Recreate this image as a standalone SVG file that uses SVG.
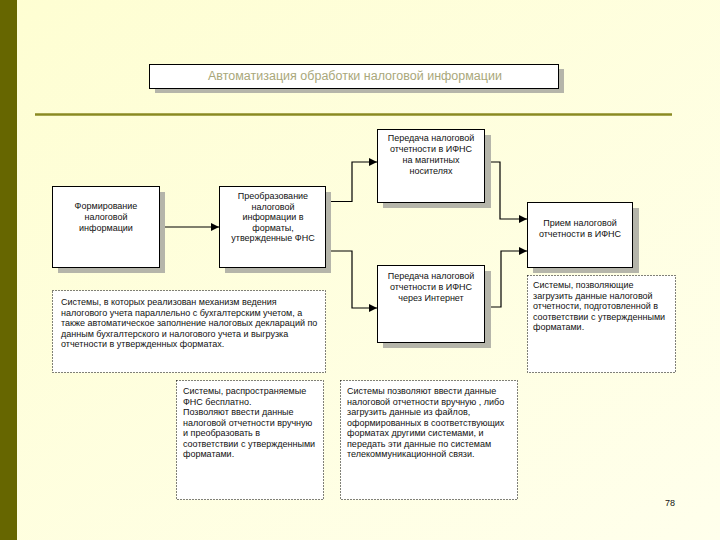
<svg xmlns="http://www.w3.org/2000/svg" width="720" height="540" viewBox="0 0 720 540">
<defs>
<linearGradient id="bg" x1="0" y1="0" x2="1" y2="1">
<stop offset="0" stop-color="#FEFED2"/>
<stop offset="1" stop-color="#FFFFEC"/>
</linearGradient>
<marker id="ah" viewBox="0 0 8 8" refX="8" refY="4" markerWidth="8" markerHeight="8" markerUnits="userSpaceOnUse" orient="auto">
<path d="M0,0 L8,4 L0,8 z" fill="#000"/>
</marker>
</defs>
<style>
.sh{fill:#B5B5AA}
.box{fill:#fff;stroke:#000;stroke-width:1}
.dot{fill:#fff;stroke:#000;stroke-width:1;stroke-dasharray:1 2}
.t{font-family:"Liberation Sans",Arial,sans-serif;font-size:9px;fill:#111;font-weight:400}
.c{text-anchor:middle}
.con{fill:none;stroke:#000;stroke-width:1.2;marker-end:url(#ah)}
</style>
<rect width="720" height="540" fill="url(#bg)"/>
<rect x="0" y="0" width="17" height="540" fill="#666600"/>
<line x1="35" y1="114.5" x2="672" y2="114.5" stroke="#8A8A22" stroke-width="2.5"/>

<g id="title">
<rect class="sh" x="155" y="69" width="409" height="24"/>
<rect class="box" x="149.5" y="64.5" width="409" height="24"/>
<text x="355" y="80" text-anchor="middle" font-family="'Liberation Sans',Arial,sans-serif" font-size="12.5" fill="#A9A77A">Автоматизация обработки налоговой информации</text>
</g>

<g id="connectors">
<path class="con" d="M159,227 H219"/>
<path class="con" d="M325,201.5 H352 V162 H377"/>
<path class="con" d="M325,251 H352 V308 H377"/>
<path class="con" d="M485,162 H500 V219 H527"/>
<path class="con" d="M485,307 H501 V251 H527"/>
</g>

<g id="form">
<rect class="sh" x="58" y="192" width="107" height="81"/>
<rect class="box" x="52.5" y="186.5" width="107" height="81"/>
<text class="t c" x="106" y="209">Формирование</text>
<text class="t c" x="106" y="220">налоговой</text>
<text class="t c" x="106" y="231">информации</text>
</g>

<g id="conv">
<rect class="sh" x="225" y="192" width="106" height="81"/>
<rect class="box" x="219.5" y="186.5" width="106" height="81"/>
<text class="t c" x="273" y="199">Преобразование</text>
<text class="t c" x="273" y="209.5">налоговой</text>
<text class="t c" x="273" y="220">информации  в</text>
<text class="t c" x="273" y="230.5">форматы,</text>
<text class="t c" x="273" y="241">утвержденные ФНС</text>
</g>

<g id="magnet">
<rect class="sh" x="383" y="135" width="108" height="73"/>
<rect class="box" x="377.5" y="129.5" width="107" height="73"/>
<text class="t c" x="431" y="141">Передача налоговой</text>
<text class="t c" x="431" y="152">отчетности в ИФНС</text>
<text class="t c" x="431" y="163">на магнитных</text>
<text class="t c" x="431" y="174">носителях</text>
</g>

<g id="internet">
<rect class="sh" x="383" y="271" width="108" height="77"/>
<rect class="box" x="377.5" y="265.5" width="107" height="77"/>
<text class="t c" x="431" y="279">Передача налоговой</text>
<text class="t c" x="431" y="290">отчетности в ИФНС</text>
<text class="t c" x="431" y="301">через Интернет</text>
</g>

<g id="receive">
<rect class="sh" x="533" y="208" width="106" height="65"/>
<rect class="box" x="527.5" y="202.5" width="105" height="65"/>
<text class="t c" x="580" y="226">Прием налоговой</text>
<text class="t c" x="580" y="237">отчетности в ИФНС</text>
</g>

<g id="note-right">
<rect class="dot" x="527.5" y="275.5" width="148" height="97"/>
<text class="t" x="533" y="288">Системы, позволяющие</text>
<text class="t" x="533" y="298.5">загрузить  данные налоговой</text>
<text class="t" x="533" y="309">отчетности, подготовленной  в</text>
<text class="t" x="533" y="319.5">соответствии с утвержденными</text>
<text class="t" x="533" y="330">форматами.</text>
</g>

<g id="note-left">
<rect class="dot" x="52.5" y="290.5" width="273" height="82"/>
<text class="t" x="61" y="305">Системы, в которых реализован механизм ведения</text>
<text class="t" x="61" y="315.5">налогового учета параллельно с бухгалтерским учетом, а</text>
<text class="t" x="61" y="326">также автоматическое заполнение налоговых деклараций по</text>
<text class="t" x="61" y="336.5">данным бухгалтерского и налогового учета и выгрузка</text>
<text class="t" x="61" y="347">отчетности в утвержденных форматах.</text>
</g>

<g id="note-free">
<rect class="dot" x="176.5" y="380.5" width="147" height="119"/>
<text class="t" x="183" y="394">Системы, распространяемые</text>
<text class="t" x="183" y="404.5">ФНС бесплатно.</text>
<text class="t" x="183" y="415">Позволяют ввести данные</text>
<text class="t" x="183" y="425.5">налоговой отчетности вручную</text>
<text class="t" x="183" y="436">и преобразовать в</text>
<text class="t" x="183" y="446.5">соответствии с утвержденными</text>
<text class="t" x="183" y="457">форматами.</text>
</g>

<g id="note-telecom">
<rect class="dot" x="340.5" y="380.5" width="177" height="119"/>
<text class="t" x="347" y="394">Системы позволяют ввести данные</text>
<text class="t" x="347" y="404.5">налоговой отчетности вручную , либо</text>
<text class="t" x="347" y="415">загрузить данные из файлов,</text>
<text class="t" x="347" y="425.5">оформированных в соответствующих</text>
<text class="t" x="347" y="436">форматах другими системами, и</text>
<text class="t" x="347" y="446.5">передать эти данные по системам</text>
<text class="t" x="347" y="457">телекоммуникационной связи.</text>
</g>

<g id="page">
<text class="t" x="670" y="506" text-anchor="middle" font-size="9.5">78</text>
</g>
</svg>
